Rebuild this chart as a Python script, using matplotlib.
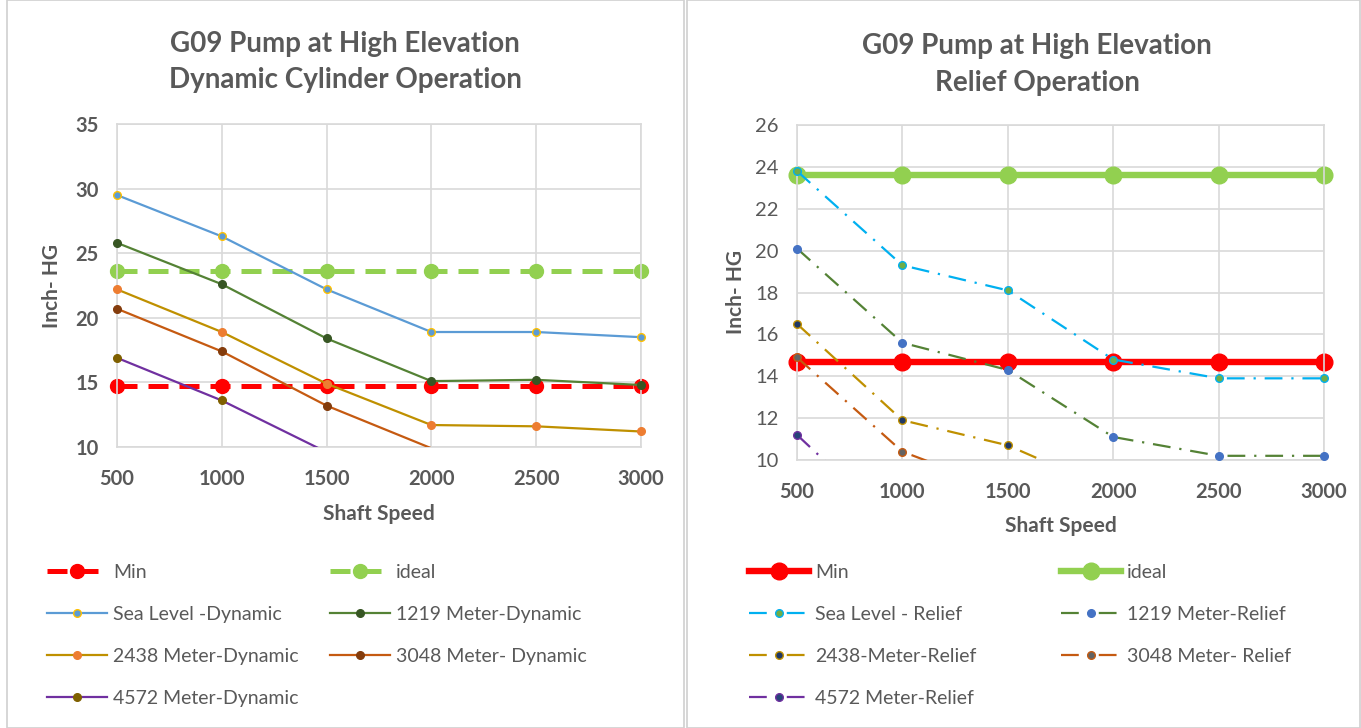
import matplotlib.pyplot as plt
from matplotlib.patches import Rectangle

plt.rcParams['font.family'] = ['Lato', 'DejaVu Sans']

# shaft speed
speed = [500, 1000, 1500, 2000, 2500, 3000]

# left chart: dynamic cylinder operation
dyn_min = [14.7, 14.7, 14.7, 14.7, 14.7, 14.7]
dyn_ideal = [23.6, 23.6, 23.6, 23.6, 23.6, 23.6]
dyn_sea = [29.5, 26.3, 22.2, 18.9, 18.9, 18.5]
dyn_1219 = [25.8, 22.6, 18.4, 15.1, 15.2, 14.8]
dyn_2438 = [22.2, 18.9, 14.9, 11.7, 11.6, 11.2]
dyn_3048 = [20.7, 17.4, 13.2, 9.9, 9.9, 9.6]
dyn_4572 = [16.9, 13.6, 9.6, 7.0, 5.8, 5.2]

# right chart: relief operation
rel_min = [14.7, 14.7, 14.7, 14.7, 14.7, 14.7]
rel_ideal = [23.6, 23.6, 23.6, 23.6, 23.6, 23.6]
rel_sea = [23.8, 19.3, 18.1, 14.8, 13.9, 13.9]
rel_1219 = [20.1, 15.6, 14.3, 11.1, 10.2, 10.2]
rel_2438 = [16.5, 11.9, 10.7, 8.5, 7.6, 7.3]
rel_3048 = [14.9, 10.4, 8.5, 7.0, 6.4, 6.2]
rel_4572 = [11.2, 6.5, 5.5, 5.0, 4.8, 4.7]

TXT = '#595959'
GRID = '#D9D9D9'
W, H = 1361, 728

fig = plt.figure(figsize=(13.61, 7.28), dpi=100)

# panel frames
fig.patches.append(Rectangle((7 / W, 0), 677 / W, 1, transform=fig.transFigure,
                             fill=False, edgecolor='#D0D0D0', lw=1.2))
fig.patches.append(Rectangle((687 / W, 0), 673 / W, 1, transform=fig.transFigure,
                             fill=False, edgecolor='#D0D0D0', lw=1.2))

ax1 = fig.add_axes([117 / W, 1 - 447 / H, 524 / W, 323 / H])
ax2 = fig.add_axes([797 / W, 1 - 460 / H, 527 / W, 335 / H])


def series(ax, y, color, mface, medge, label, ls='-', lw=1.6, ms=5.5, ymin=10):
    ax.plot(speed, y, color=color, ls=ls, lw=lw, zorder=3)
    xs = [x for x, v in zip(speed, y) if v >= ymin - 0.05]
    vs = [v for v in y if v >= ymin - 0.05]
    ax.plot(xs, vs, ls='none', marker='o', ms=ms, mfc=mface, mec=medge,
            mew=1.0, clip_on=False, zorder=4)
    return ax.plot([], [], color=color, ls=ls, lw=lw, marker='o', ms=ms,
                   mfc=mface, mec=medge, label=label)[0]


def style(ax, ylim, yticks, ybold, ylab_x, xlab_y):
    ax.set_xlim(500, 3000)
    ax.set_ylim(*ylim)
    ax.set_xticks(speed)
    ax.set_yticks(yticks)
    ax.grid(True, color=GRID, lw=1.2)
    ax.set_axisbelow(True)
    for s in ax.spines.values():
        s.set_color(GRID)
        s.set_linewidth(1.2)
    ax.tick_params(axis='x', length=0, pad=16, colors=TXT)
    ax.tick_params(axis='y', length=0, pad=13, colors=TXT)
    for t in ax.get_xticklabels():
        t.set_fontsize(14.5)
        t.set_fontweight('bold')
    for t in ax.get_yticklabels():
        t.set_fontsize(14.5)
        t.set_fontweight('bold' if ybold else 'normal')
    ax.set_ylabel('Inch- HG', fontsize=15, fontweight='bold', color=TXT)
    ax.set_xlabel('Shaft Speed', fontsize=15, fontweight='bold', color=TXT)
    ax.yaxis.set_label_coords(ylab_x, 0.5)
    ax.xaxis.set_label_coords(0.5, xlab_y)


def legend_col(handles, x, y, hlen):
    lg = fig.legend(handles=handles, loc='upper left', bbox_to_anchor=(x / W, 1 - y / H),
                    frameon=False, fontsize=14, handlelength=hlen, borderpad=0,
                    borderaxespad=0, labelspacing=1.28, handletextpad=0.3)
    for t in lg.get_texts():
        t.set_color(TXT)


# ---- left chart
h_min = ax1.plot(speed, dyn_min, color='#FF0000', ls=(0, (4, 2.2)), lw=3.6, marker='o',
                 ms=10, clip_on=False, zorder=2, label='Min')[0]
h_ideal = ax1.plot(speed, dyn_ideal, color='#92D050', ls=(0, (4, 2.2)), lw=3.6, marker='o',
                   ms=10, clip_on=False, zorder=2, label='ideal')[0]
h_sea = series(ax1, dyn_sea, '#5B9BD5', '#5B9BD5', '#FFC000', 'Sea Level -Dynamic')
h_1219 = series(ax1, dyn_1219, '#548235', '#375623', '#375623', '1219 Meter-Dynamic')
h_2438 = series(ax1, dyn_2438, '#BF9000', '#ED7D31', '#ED7D31', '2438 Meter-Dynamic')
h_3048 = series(ax1, dyn_3048, '#C55A11', '#843C0C', '#843C0C', '3048 Meter- Dynamic')
h_4572 = series(ax1, dyn_4572, '#7030A0', '#7F6000', '#7F6000', '4572 Meter-Dynamic')
style(ax1, (10, 35), [10, 15, 20, 25, 30, 35], True, (62 - 117) / 524, (447 - 504) / 323)
fig.text(345 / W, 1 - 44 / H, 'G09 Pump at High Elevation', ha='center', va='center',
         fontsize=20, fontweight='bold', color=TXT)
fig.text(345 / W, 1 - 80 / H, 'Dynamic Cylinder Operation', ha='center', va='center',
         fontsize=20, fontweight='bold', color=TXT)

legend_col([h_min, h_sea, h_2438, h_4572], 47, 564, 3.1)
legend_col([h_ideal, h_1219, h_3048], 330, 564, 3.1)

# ---- right chart
r_min = ax2.plot(speed, rel_min, color='#FF0000', lw=4.6, marker='o', ms=12,
                 clip_on=False, zorder=2, label='Min')[0]
r_ideal = ax2.plot(speed, rel_ideal, color='#92D050', lw=4.6, marker='o', ms=12,
                   clip_on=False, zorder=2, label='ideal')[0]
dd = (0, (8, 4, 1, 4))
r_sea = series(ax2, rel_sea, '#00B0F0', '#70AD47', '#00B0F0', 'Sea Level - Relief', ls=dd)
r_1219 = series(ax2, rel_1219, '#548235', '#4472C4', '#4472C4', '1219 Meter-Relief', ls=dd)
r_2438 = series(ax2, rel_2438, '#BF9000', '#203864', '#BF9000', '2438-Meter-Relief', ls=dd)
r_3048 = series(ax2, rel_3048, '#C55A11', '#636363', '#C55A11', '3048 Meter- Relief', ls=dd)
r_4572 = series(ax2, rel_4572, '#7030A0', '#264478', '#7030A0', '4572 Meter-Relief', ls=dd)
style(ax2, (10, 26), [10, 12, 14, 16, 18, 20, 22, 24, 26], False,
      (746 - 797) / 527, (460 - 516) / 335)
fig.text(1037 / W, 1 - 46 / H, 'G09 Pump at High Elevation', ha='center', va='center',
         fontsize=20, fontweight='bold', color=TXT)
fig.text(1037 / W, 1 - 83 / H, 'Relief Operation', ha='center', va='center',
         fontsize=20, fontweight='bold', color=TXT)

legend_col([r_min, r_sea, r_2438, r_4572], 749, 564, 3.1)
legend_col([r_ideal, r_1219, r_3048], 1061, 564, 3.1)

fig.savefig('out.png', dpi=100, facecolor='white')
